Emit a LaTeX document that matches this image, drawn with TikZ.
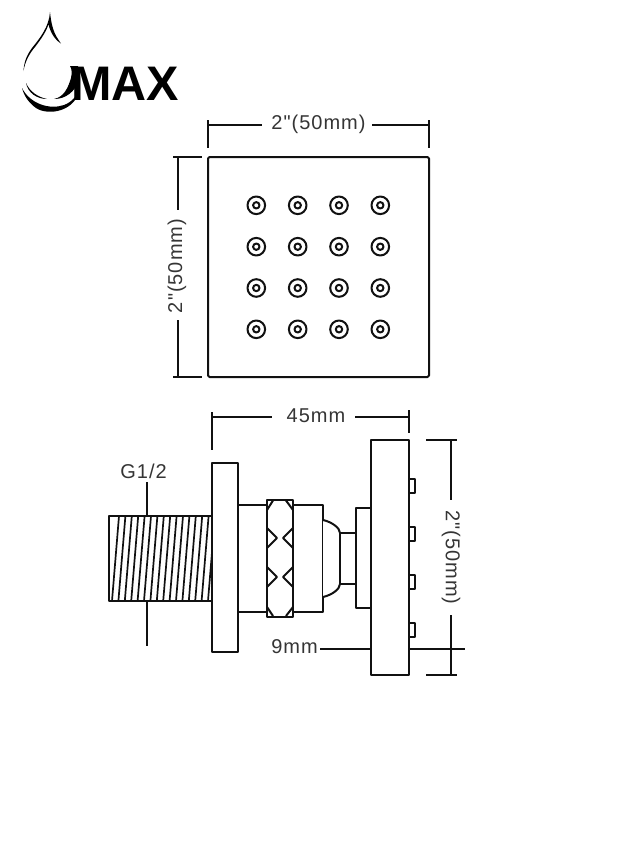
\documentclass[tikz,border=0pt]{standalone}
\usepackage{fontspec}
\newfontfamily\dimfont[LetterSpace=5]{Liberation Sans}
\newfontfamily\logofont{Liberation Sans}
\definecolor{inkline}{HTML}{111111}
\begin{document}
\begin{tikzpicture}[x=1pt,y=-1pt,line join=round]
        % Define styles for shapes
        \tikzstyle{part} = [draw=inkline, line width=2pt, fill=white]
        \tikzstyle{dimline} = [draw=inkline, line width=2pt]
        \tikzstyle{dimtext} = [text=inkline!85, font=\dimfont\fontsize{20}{22}\selectfont, inner sep=0pt]
        \tikzstyle{logoshape} = [fill=black, draw=none]

        \useasboundingbox[fill=white] (0,0) rectangle (631,844);

        % Logo
        \node[anchor=base west, inner sep=0pt, text=black, font=\logofont\bfseries\fontsize{48.5}{50}\selectfont] (logotext) at (71,100) {MAX};
        \path[logoshape] (50,12) .. controls (49,27) and (40,38) .. (32,48) .. controls (26,56) and (24,63) .. (23.5,71) .. controls (25,62) and (29,54) .. (35,47) .. controls (42,38) and (47,30) .. (48.5,24) .. controls (50,32) and (55,40) .. (61,43.5) .. controls (60,41) .. (58,39) .. controls (53,32) and (51,22) .. (50,12) -- cycle;
        \path[logoshape] (22,88) .. controls (30,104) and (50,110) .. (64,105) .. controls (72,102) and (77,96) .. (80,88) .. controls (76,112) and (48,116) .. (36,108) .. controls (29,103) and (24,96) .. (22,88) -- cycle;
        \path[logoshape] (26,83) .. controls (30,92) and (38,97) .. (47,99) .. controls (37,99) and (28,93) .. (26,83) -- cycle;
        \path[logoshape] (54,99) .. controls (64,97) and (68,88) .. (71,78) .. controls (72,73) and (72,69) .. (70,66) -- (78,66) -- (80,80) .. controls (74,92) and (66,99) .. (54,99) -- cycle;

        % Top view
        \draw[part, rounded corners=1.5pt] (208,157) rectangle (429,377);
        \foreach \cx in {256.3,297.7,339,380.3} {
            \foreach \cy in {205.3,246.7,288,329.3} {
                \draw[dimline] (\cx,\cy) circle (8.8);
                \draw[dimline] (\cx,\cy) circle (3.2);
            }
        }

        % Top view dimensions
        \node[dimtext] (topwidth) at (318.5,124) {2"(50mm)};
        \coordinate (topwidthL) at (208,125);
        \coordinate (topwidthR) at (429,125);
        \draw[dimline] (208,120) -- (208,148);
        \draw[dimline] (429,120) -- (429,148);
        \draw[dimline] (topwidthL) -- (262,125);
        \draw[dimline] (topwidthR) -- (372,125);

        \node[dimtext, rotate=90] (topheight) at (177,266) {2"(50mm)};
        \coordinate (topheightT) at (178,157);
        \coordinate (topheightB) at (178,377);
        \draw[dimline] (173,157) -- (202,157);
        \draw[dimline] (173,377) -- (202,377);
        \draw[dimline] (topheightT) -- (178,210);
        \draw[dimline] (topheightB) -- (178,320);

        % Side view: threaded stem
        \draw[part] (109,516) rectangle (212,601);
        \begin{scope}
            \clip (109,516) rectangle (212,601);
            \foreach \i in {0,...,15} {
                \draw[dimline, line width=1.7pt] ({112+6.4*\i},601) -- ({119+6.4*\i},516);
            }
        \end{scope}

        % Side view: body parts
        \draw[part] (212,463) rectangle (238,652);
        \draw[part] (238,505) rectangle (267,612);
        \draw[part] (293,505) rectangle (323,612);
        \draw[part] (323,520) .. controls (332,522) and (340,528) .. (340,533) -- (340,584) .. controls (340,589) and (332,595) .. (323,597);
        \draw[part] (340,533) rectangle (356,584);
        \draw[part] (356,508) rectangle (371,608);

        % Knurled nut
        \draw[part] (267,500) rectangle (293,616.5);
        \draw[dimline] (267,510) -- (273,500.5);
        \draw[dimline] (293,510) -- (286,500.5);
        \draw[dimline] (267,607) -- (273,616);
        \draw[dimline] (293,607) -- (286,616);
        \foreach \ny in {538,577} {
            \draw[dimline] (267,\ny-10) -- (277,\ny) -- (267,\ny+10);
            \draw[dimline] (293,\ny-10) -- (283,\ny) -- (293,\ny+10);
        }

        % Face plate and nozzles
        \foreach \ny in {479,527,575,623} {
            \draw[part] (409,\ny) rectangle (415,\ny+13.5);
        }
        \draw[part] (371,440) rectangle (409,675);

        % Side view dimensions
        \node[dimtext] (g12) at (143.5,471) {G1/2};
        \coordinate (stemT) at (147,516);
        \coordinate (stemB) at (147,601);
        \draw[dimline] (stemT) -- (147,482);
        \draw[dimline] (stemB) -- (147,646);

        \node[dimtext] (depth) at (316,415.5) {45mm};
        \draw[dimline] (212,412) -- (212,450);
        \draw[dimline] (409,410) -- (409,433);
        \draw[dimline] (212,416.5) -- (272,416.5);
        \draw[dimline] (355,416.5) -- (409,416.5);

        \node[dimtext, rotate=-90] (sideheight) at (451,557.5) {2"(50mm)};
        \draw[dimline] (426,440) -- (457,440);
        \draw[dimline] (426,675) -- (457,675);
        \draw[dimline] (451,440) -- (451,500);
        \draw[dimline] (451,615) -- (451,675);

        \node[dimtext, anchor=east] (nine) at (318,647) {9mm};
        \coordinate (nineL) at (371,648.5);
        \coordinate (nineR) at (409,648.5);
        \draw[dimline] (nine.east |- nineL) ++(2,0) -- (nineL);
        \draw[dimline] (nineR) -- (465,648.5);
    \end{tikzpicture}
\end{document}
